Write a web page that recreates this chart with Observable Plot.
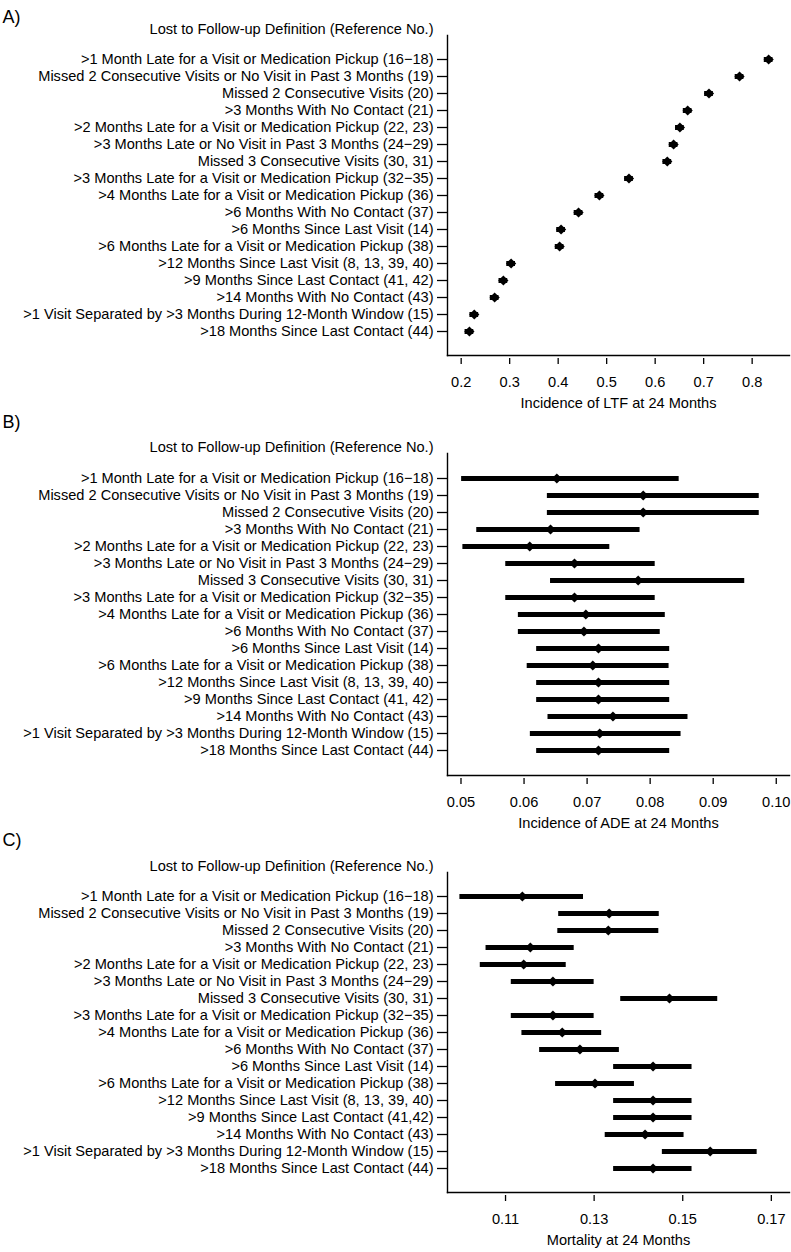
<!DOCTYPE html>
<html><head><meta charset="utf-8">
<script src="https://cdn.jsdelivr.net/npm/d3@7"></script>
<script src="https://cdn.jsdelivr.net/npm/@observablehq/plot@0.6"></script>
<style>
body{margin:0;background:#fff;}
#root{position:relative;width:791px;height:1252px;overflow:hidden;}
#root svg{position:absolute;left:0;}
</style></head>
<body><div id="root"></div>
<script>
const labelsAB = [
  ">1 Month Late for a Visit or Medication Pickup (16\u221218)",
  "Missed 2 Consecutive Visits or No Visit in Past 3 Months (19)",
  "Missed 2 Consecutive Visits (20)",
  ">3 Months With No Contact (21)",
  ">2 Months Late for a Visit or Medication Pickup (22, 23)",
  ">3 Months Late or No Visit in Past 3 Months (24\u221229)",
  "Missed 3 Consecutive Visits (30, 31)",
  ">3 Months Late for a Visit or Medication Pickup (32\u221235)",
  ">4 Months Late for a Visit or Medication Pickup (36)",
  ">6 Months With No Contact (37)",
  ">6 Months Since Last Visit (14)",
  ">6 Months Late for a Visit or Medication Pickup (38)",
  ">12 Months Since Last Visit (8, 13, 39, 40)",
  ">9 Months Since Last Contact (41, 42)",
  ">14 Months With No Contact (43)",
  ">1 Visit Separated by >3 Months During 12-Month Window (15)",
  ">18 Months Since Last Contact (44)"
];
const labelsC = labelsAB.map((l, i) => i === 13 ? ">9 Months Since Last Contact (41,42)" : l);

const ltfEst = [0.834,0.774,0.711,0.667,0.651,0.638,0.625,0.546,0.485,0.442,0.406,0.403,0.303,0.287,0.269,0.227,0.217];
const ltfLo  = [0.825,0.765,0.702,0.658,0.642,0.629,0.616,0.537,0.476,0.433,0.397,0.394,0.294,0.278,0.260,0.218,0.208];
const ltfHi  = [0.843,0.783,0.720,0.676,0.660,0.647,0.634,0.555,0.494,0.451,0.415,0.412,0.312,0.296,0.278,0.236,0.226];

const adeEst = [0.0652,0.0789,0.0789,0.0642,0.0609,0.0680,0.0781,0.0680,0.0698,0.0695,0.0718,0.0709,0.0718,0.0718,0.0741,0.0720,0.0718];
const adeLo  = [0.0501,0.0637,0.0637,0.0525,0.0503,0.0571,0.0642,0.0571,0.0591,0.0591,0.0620,0.0605,0.0620,0.0620,0.0638,0.0610,0.0620];
const adeHi  = [0.0846,0.0973,0.0973,0.0784,0.0736,0.0808,0.0950,0.0808,0.0824,0.0816,0.0831,0.0830,0.0831,0.0831,0.0860,0.0849,0.0831];

const morEst = [0.1138,0.1334,0.1332,0.1156,0.1141,0.1207,0.1470,0.1207,0.1228,0.1268,0.1433,0.1302,0.1433,0.1433,0.1415,0.1562,0.1433];
const morLo  = [0.0997,0.1220,0.1218,0.1056,0.1043,0.1113,0.1360,0.1113,0.1137,0.1177,0.1344,0.1213,0.1344,0.1344,0.1325,0.1454,0.1344];
const morHi  = [0.1276,0.1447,0.1446,0.1255,0.1237,0.1300,0.1579,0.1300,0.1317,0.1357,0.1521,0.1391,0.1521,0.1521,0.1503,0.1668,0.1521];

const ticksA = [0.2,0.3,0.4,0.5,0.6,0.7,0.8];
const ticksB = [0.05,0.06,0.07,0.08,0.09,0.10];
const ticksC = [0.11,0.13,0.15,0.17];

const yTitle = "Lost to Follow-up Definition (Reference No.)";
const FONT = "'Liberation Sans', Arial, Helvetica, sans-serif";
const FS = 14.6;

function panel(o) {
  const data = o.labels.map((l, i) => ({label: l, est: o.est[i], lo: o.lo[i], hi: o.hi[i]}));
  const height = o.marginTop + o.frameH + o.marginBottom;
  const svg = Plot.plot({
    width: 791, height,
    marginLeft: 447, marginRight: 2, marginTop: o.marginTop, marginBottom: o.marginBottom,
    style: {fontFamily: FONT, fontSize: FS + "px", color: "#000", background: "transparent", overflow: "visible"},
    x: {domain: o.domain},
    y: {type: "point", domain: o.labels, padding: o.pad},
    marks: [
      Plot.frame({anchor: "left", strokeWidth: 1.4}),
      Plot.frame({anchor: "bottom", strokeWidth: 1.4}),
      Plot.axisY({tickSize: 10, tickPadding: 4, label: null, strokeWidth: 1.3, fontSize: FS}),
      Plot.axisX(o.ticks, {tickFormat: o.fmt, tickSize: 6, dy: 3, tickPadding: 12, label: null, strokeWidth: 1.3, fontSize: FS}),
      Plot.ruleY(data, {y: "label", x1: "lo", x2: "hi", stroke: "#000", strokeWidth: 5}),
      Plot.dot(data, {y: "label", x: "est", symbol: "diamond2", r: 4.6, fill: "#000", stroke: "none"}),
      Plot.text([o.xlabel], {frameAnchor: "bottom", dy: 52, text: d => d, fontSize: FS, fill: "#000"}),
      Plot.text([yTitle], {frameAnchor: "top-left", dx: -14, dy: -12, textAnchor: "end", text: d => d, fontSize: FS, fill: "#000"}),
      Plot.text([o.tag], {frameAnchor: "top-left", dx: -445, dy: o.tagDy, textAnchor: "start", text: d => d, fontSize: 18, fill: "#000"})
    ]
  });
  svg.style.top = o.top + "px";
  document.getElementById("root").appendChild(svg);
}

panel({labels: labelsAB, est: ltfEst, lo: ltfLo, hi: ltfHi, domain: [0.1718, 0.877], ticks: ticksA, fmt: d3.format(".1f"),
  xlabel: "Incidence of LTF at 24 Months", tag: "A)", tagDy: -25, top: 0, marginTop: 35, frameH: 320, marginBottom: 65, pad: 1.143});
panel({labels: labelsAB, est: adeEst, lo: adeLo, hi: adeHi, domain: [0.04786, 0.1021], ticks: ticksB, fmt: d3.format(".2f"),
  xlabel: "Incidence of ADE at 24 Months", tag: "B)", tagDy: -38, top: 390, marginTop: 63, frameH: 322, marginBottom: 65, pad: 1.21});
panel({labels: labelsC, est: morEst, lo: morLo, hi: morHi, domain: [0.0969, 0.1741], ticks: ticksC, fmt: d3.format(".2f"),
  xlabel: "Mortality at 24 Months", tag: "C)", tagDy: -39, top: 805, marginTop: 67, frameH: 320, marginBottom: 60, pad: 1.143});
</script>
</body></html>
